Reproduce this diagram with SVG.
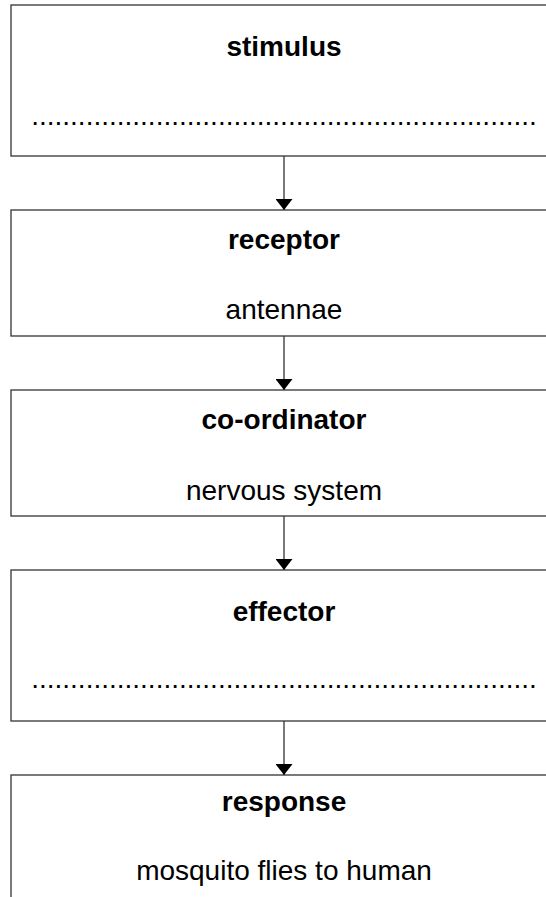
<svg xmlns="http://www.w3.org/2000/svg" width="546" height="897" viewBox="0 0 546 897">
<style>
.box{fill:#ffffff;stroke:#333333;stroke-width:1.3}
.t{font-family:"Liberation Sans",Arial,Helvetica,sans-serif;font-size:28px;fill:#000;text-anchor:middle}
.b{font-weight:bold}
.conn{stroke:#333333;stroke-width:1.3;fill:none}
</style>
<defs>
<marker id="arr" markerWidth="11" markerHeight="17" refX="11" refY="8.5" orient="auto" markerUnits="userSpaceOnUse">
<path d="M0,0 L11,8.5 L0,17 Z" fill="#000"/>
</marker>
</defs>
<rect width="546" height="897" fill="#ffffff"/>
<g id="stimulus">
<rect class="box" x="11" y="5" width="560" height="151"/>
<text class="t b" x="284" y="56">stimulus</text>
<text class="t" x="284" y="125">.................................................................</text>
</g>
<g id="receptor">
<rect class="box" x="11" y="210" width="560" height="126"/>
<text class="t b" x="284" y="249">receptor</text>
<text class="t" x="284" y="319">antennae</text>
</g>
<g id="coordinator">
<rect class="box" x="11" y="390" width="560" height="126"/>
<text class="t b" x="284" y="429">co-ordinator</text>
<text class="t" x="284" y="500">nervous system</text>
</g>
<g id="effector">
<rect class="box" x="11" y="570" width="560" height="151"/>
<text class="t b" x="284" y="621">effector</text>
<text class="t" x="284" y="688">.................................................................</text>
</g>
<g id="response">
<rect class="box" x="11" y="775" width="560" height="140"/>
<text class="t b" x="284" y="811">response</text>
<text class="t" x="284" y="880">mosquito flies to human</text>
</g>
<g id="connectors">
<line class="conn" x1="284" y1="156" x2="284" y2="210" marker-end="url(#arr)"/>
<line class="conn" x1="284" y1="336" x2="284" y2="390" marker-end="url(#arr)"/>
<line class="conn" x1="284" y1="516" x2="284" y2="570" marker-end="url(#arr)"/>
<line class="conn" x1="284" y1="721" x2="284" y2="775" marker-end="url(#arr)"/>
</g>
</svg>
